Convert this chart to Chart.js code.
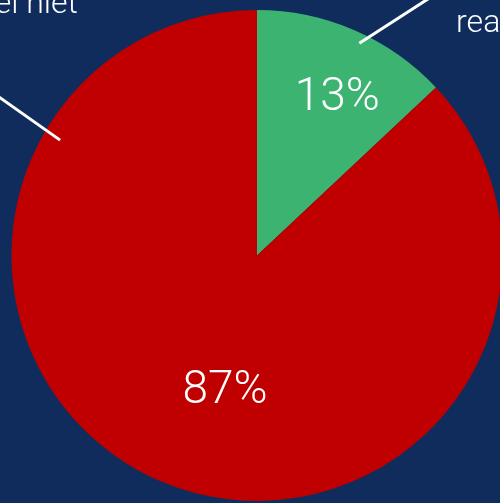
<!DOCTYPE html>
<html>
<head>
<meta charset="utf-8">
<script src="https://cdn.jsdelivr.net/npm/chart.js@4/dist/chart.umd.min.js"></script>
<style>
  html, body {
    margin: 0;
    padding: 0;
    width: 500px;
    height: 503px;
    overflow: hidden;
    background: #0f2c5c;
  }
  #wrap {
    position: absolute;
    left: 0;
    top: 0;
  }
</style>
</head>
<body>
<div id="wrap"><canvas id="pie" width="520" height="520"></canvas></div>
<script>
const categories = ['rea', 'el niet'];
const shares = [13, 87];
const sliceColors = ['#3cb371', '#c00000'];

// where the percentage text sits, as a fraction of the radius from the centre
const pctSpots = [[0.327, -0.64], [-0.13, 0.555]];
// leader lines (from/to as radius fractions) and the outer label anchor
const leaders = [
    { from: [0.417, -0.865], to: [0.72, -1.06], text: [0.811, -0.911], align: 'left' },
    { from: [-0.802, -0.47], to: [-1.05, -0.645], text: [-0.73, -0.988], align: 'right' },
];

const labelFont = '300 32px Roboto, "Open Sans", sans-serif';
const pctFont = '300 46px Roboto, "Open Sans", sans-serif';

const pieLabels = {
    id: 'pieLabels',
    afterDraw(chart) {
        const ctx = chart.ctx;
        const arc = chart.getDatasetMeta(0).data[0];
        const cx = arc.x;
        const cy = arc.y;
        const r = arc.outerRadius;
        const at = (p) => [cx + p[0] * r, cy + p[1] * r];

        ctx.save();
        ctx.fillStyle = '#ffffff';
        ctx.strokeStyle = '#ffffff';
        ctx.lineWidth = 3;

        leaders.forEach((l, i) => {
            const a = at(l.from);
            const b = at(l.to);
            ctx.beginPath();
            ctx.moveTo(a[0], a[1]);
            ctx.lineTo(b[0], b[1]);
            ctx.stroke();

            const t = at(l.text);
            ctx.font = labelFont;
            ctx.textAlign = l.align;
            ctx.textBaseline = 'alphabetic';
            ctx.fillText(categories[i], t[0], t[1]);
        });

        ctx.font = pctFont;
        ctx.textAlign = 'center';
        ctx.textBaseline = 'middle';
        shares.forEach((v, i) => {
            const p = at(pctSpots[i]);
            ctx.fillText(v + '%', p[0], p[1]);
        });
        ctx.restore();
    }
};

const data = {
    labels: categories,
    datasets: [{
        data: shares,
        backgroundColor: sliceColors,
        borderWidth: 0,
    }]
};

const config = {
    type: 'pie',
    data: data,
    options: {
        responsive: false,
        animation: false,
        layout: {
            padding: { left: 11, top: 10, right: 17, bottom: 19 }
        },
        plugins: {
            legend: { display: false },
            tooltip: { enabled: false }
        }
    },
    plugins: [pieLabels]
};

new Chart(document.getElementById('pie'), config);
</script>
</body>
</html>
